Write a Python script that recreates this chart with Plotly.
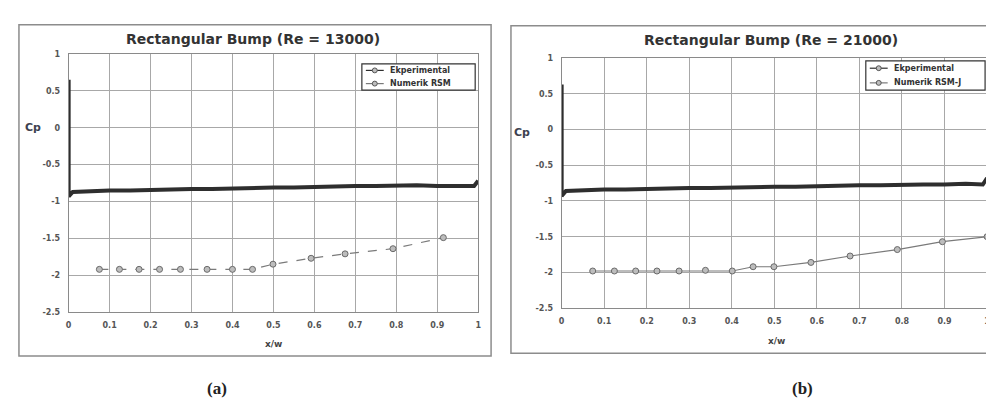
import plotly.graph_objects as go

W, H = 994, 401

# ---------------- data ----------------
x_ticks = [0, 0.1, 0.2, 0.3, 0.4, 0.5, 0.6, 0.7, 0.8, 0.9, 1]
x_tick_labels = ["0", "0.1", "0.2", "0.3", "0.4", "0.5", "0.6", "0.7", "0.8", "0.9", "1"]
y_ticks = [1, 0.5, 0, -0.5, -1, -1.5, -2, -2.5]
y_tick_labels = ["1", "0.5", "0", "-0.5", "-1", "-1.5", "-2", "-2.5"]

# (a) Re = 13000
exp_a_x = [0, 0, 0, 0, 0, 0, 0, 0, 0.01, 0.05, 0.1, 0.15, 0.2, 0.25, 0.3, 0.35, 0.4, 0.45,
           0.5, 0.55, 0.6, 0.65, 0.7, 0.75, 0.8, 0.85, 0.9, 0.95, 0.99, 1.0]
exp_a_y = [0.65, 0.55, 0.45, 0.35, 0.1, -0.3, -0.6, -0.93, -0.87, -0.86, -0.85, -0.85, -0.84,
           -0.84, -0.83, -0.83, -0.82, -0.82, -0.81, -0.81, -0.80, -0.80, -0.79, -0.79, -0.78,
           -0.78, -0.79, -0.79, -0.79, -0.72]
num_a_x = [0.075, 0.124, 0.172, 0.222, 0.273, 0.338, 0.40, 0.449, 0.499, 0.592, 0.675, 0.792, 0.915]
num_a_y = [-1.92, -1.92, -1.92, -1.92, -1.92, -1.92, -1.92, -1.92, -1.85, -1.77, -1.71, -1.64, -1.49]

# (b) Re = 21000
exp_b_x = [0, 0, 0, 0, 0, 0, 0, 0, 0.01, 0.05, 0.1, 0.15, 0.2, 0.25, 0.3, 0.35, 0.4, 0.45,
           0.5, 0.55, 0.6, 0.65, 0.7, 0.75, 0.8, 0.85, 0.9, 0.95, 0.99, 1.0]
exp_b_y = [0.63, 0.5, 0.35, 0.2, 0.08, -0.3, -0.6, -0.93, -0.86, -0.85, -0.84, -0.84, -0.83,
           -0.83, -0.82, -0.82, -0.81, -0.81, -0.80, -0.80, -0.79, -0.79, -0.78, -0.78, -0.77,
           -0.77, -0.77, -0.76, -0.77, -0.68]
num_b_x = [0.073, 0.124, 0.174, 0.224, 0.276, 0.338, 0.401, 0.450, 0.499, 0.586, 0.678, 0.789, 0.895, 1.0]
num_b_y = [-1.98, -1.98, -1.98, -1.98, -1.98, -1.97, -1.98, -1.92, -1.92, -1.86, -1.77, -1.68, -1.57, -1.50]

titles = ["Rectangular Bump (Re = 13000)", "Rectangular Bump (Re = 21000)"]
exp_name = "Ekperimental"
num_names = ["Numerik RSM", "Numerik RSM-J"]
panel_labels = ["(a)", "(b)"]


def px(x):
    return x / W


def py(y):
    return 1 - y / H


fig = go.Figure()

EXP_COLOR = "#2e2e2e"
NUM_COLOR = "#7a7a7a"
FONT = "DejaVu Sans"

fig.add_trace(go.Scatter(x=exp_a_x, y=exp_a_y, mode="lines", name=exp_name,
                         line=dict(color=EXP_COLOR, width=4), xaxis="x", yaxis="y",
                         showlegend=False))
fig.add_trace(go.Scatter(x=num_a_x, y=num_a_y, mode="lines+markers", name=num_names[0],
                         line=dict(color=NUM_COLOR, width=1.2, dash="dash"),
                         marker=dict(symbol="circle", size=6, color="#bdbdbd",
                                     line=dict(color="#6a6a6a", width=1)),
                         xaxis="x", yaxis="y", showlegend=False))
fig.add_trace(go.Scatter(x=exp_b_x, y=exp_b_y, mode="lines", name=exp_name,
                         line=dict(color=EXP_COLOR, width=4), xaxis="x2", yaxis="y2",
                         showlegend=False))
fig.add_trace(go.Scatter(x=num_b_x, y=num_b_y, mode="lines+markers", name=num_names[1],
                         line=dict(color=NUM_COLOR, width=1.2),
                         marker=dict(symbol="circle", size=6, color="#bdbdbd",
                                     line=dict(color="#6a6a6a", width=1)),
                         xaxis="x2", yaxis="y2", showlegend=False))

tickfont = dict(family=FONT, size=8, color="#555", weight=700)

common_x = dict(range=[0, 1], tickvals=x_ticks, ticktext=x_tick_labels, showgrid=True,
                gridcolor="#a8a8a8", gridwidth=1, zeroline=False, showline=True,
                linecolor="#8a8a8a", linewidth=1, mirror=True, ticks="", tickfont=tickfont,
                ticklabelstandoff=5, fixedrange=True)
common_y = dict(range=[-2.5, 1], tickvals=y_ticks, ticktext=y_tick_labels, showgrid=True,
                gridcolor="#a8a8a8", gridwidth=1, zeroline=False, showline=True,
                linecolor="#8a8a8a", linewidth=1, mirror=True, ticks="", tickfont=tickfont,
                ticklabelstandoff=6, fixedrange=True)

fig.update_layout(
    width=W, height=H,
    margin=dict(l=0, r=0, t=0, b=0),
    paper_bgcolor="white", plot_bgcolor="white",
    xaxis=dict(common_x, domain=[px(58), px(470)], anchor="y"),
    yaxis=dict(common_y, domain=[py(307), py(43)], anchor="x"),
    xaxis2=dict(common_x, domain=[px(554), px(982)], anchor="y2"),
    yaxis2=dict(common_y, domain=[py(303), py(47)], anchor="x2"),
    showlegend=False,
)

shapes = []
# outer frames
shapes.append(dict(type="rect", xref="paper", yref="paper", x0=px(8), x1=px(483), y0=py(352), y1=py(13),
                   line=dict(color="#8c8c8c", width=1.5), layer="below"))
shapes.append(dict(type="rect", xref="paper", yref="paper", x0=px(503), x1=px(1000), y0=py(349), y1=py(14),
                   line=dict(color="#8c8c8c", width=1.5), layer="below"))

ann = []

# custom legends (box, sample line with marker, text)
legend_boxes = [(353, 467, 53, 80), (860, 980, 50, 80)]
legend_names = [[exp_name, num_names[0]], [exp_name, num_names[1]]]
for (x0, x1, y0, y1), names in zip(legend_boxes, legend_names):
    shapes.append(dict(type="rect", xref="paper", yref="paper", x0=px(x0), x1=px(x1),
                       y0=py(y1), y1=py(y0), fillcolor="white",
                       line=dict(color="#333", width=1.2), layer="above"))
    rowh = (y1 - y0) / 2
    for i, nm in enumerate(names):
        yc = y0 + rowh * (i + 0.5)
        col = EXP_COLOR if i == 0 else NUM_COLOR
        shapes.append(dict(type="line", xref="paper", yref="paper", x0=px(x0 + 4), x1=px(x0 + 22),
                           y0=py(yc), y1=py(yc), line=dict(color=col, width=1.2), layer="above"))
        shapes.append(dict(type="circle", xref="paper", yref="paper", x0=px(x0 + 10.5), x1=px(x0 + 15.5),
                           y0=py(yc + 2.5), y1=py(yc - 2.5), fillcolor="#bdbdbd",
                           line=dict(color="#555", width=1), layer="above"))
        ann.append(dict(text=nm, x=px(x0 + 26), y=py(yc), xref="paper", yref="paper",
                        showarrow=False, xanchor="left", yanchor="middle",
                        font=dict(family=FONT, size=8, color="#333", weight=700)))

title_centers = [(243, 28), (765, 29)]
for t, (cx, cy) in zip(titles, title_centers):
    ann.append(dict(text=t, x=px(cx), y=py(cy), xref="paper", yref="paper", showarrow=False,
                    xanchor="center", yanchor="middle",
                    font=dict(family=FONT, size=14, color="#333", weight=700)))
for (cx, cy) in [(22, 118), (514, 123)]:
    ann.append(dict(text="Cp", x=px(cx), y=py(cy), xref="paper", yref="paper", showarrow=False,
                    xanchor="center", yanchor="middle",
                    font=dict(family=FONT, size=11, color="#3d4250", weight=700)))
for (cx, cy) in [(264, 340), (770, 337)]:
    ann.append(dict(text="x/w", x=px(cx), y=py(cy), xref="paper", yref="paper", showarrow=False,
                    xanchor="center", yanchor="middle",
                    font=dict(family=FONT, size=9, color="#444", weight=700)))
for lab, (cx, cy) in zip(panel_labels, [(207, 385), (796, 385)]):
    ann.append(dict(text=lab, x=px(cx), y=py(cy), xref="paper", yref="paper", showarrow=False,
                    xanchor="center", yanchor="middle",
                    font=dict(family="Liberation Serif", size=17, color="#222", weight=700)))

fig.update_layout(annotations=ann, shapes=shapes)

fig.write_html("out.html")
